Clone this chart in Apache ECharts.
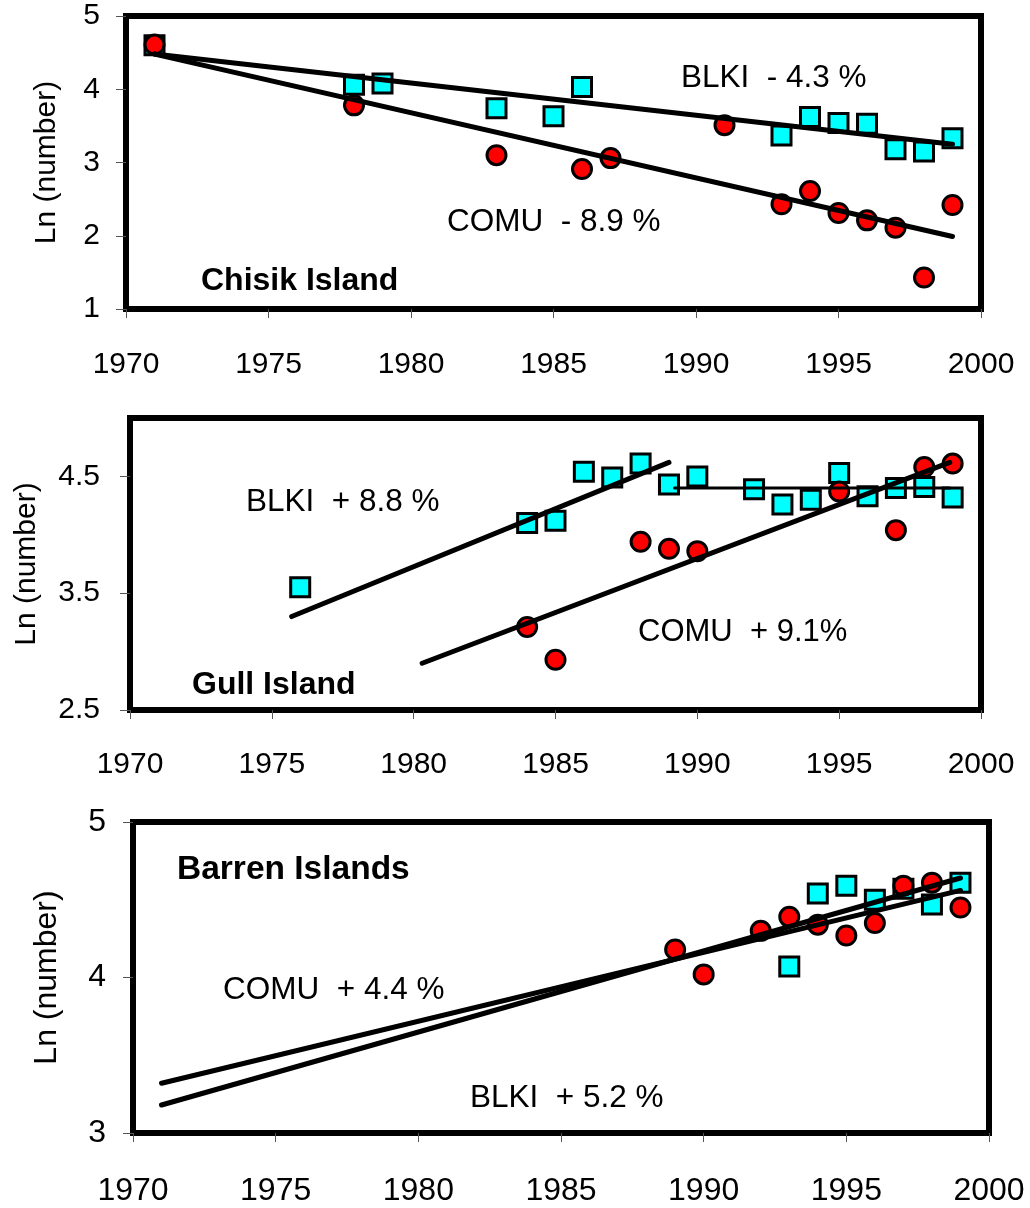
<!DOCTYPE html>
<html>
<head>
<meta charset="utf-8">
<script src="https://cdn.jsdelivr.net/npm/echarts@6/dist/echarts.min.js"></script>
<style>
  html, body { margin: 0; padding: 0; background: #fff; }
  #main { width: 1030px; height: 1208px; }
</style>
</head>
<body>
<div id="main"></div>
<script>
// x ticks shared by the three panels
var xTicks = [1970, 1975, 1980, 1985, 1990, 1995, 2000];

// Chisik Island
var chisikBlkiYears = [1971, 1978, 1979, 1983, 1985, 1986, 1993, 1994, 1995, 1996, 1997, 1998, 1999];
var chisikBlki = [4.60, 4.06, 4.08, 3.74, 3.63, 4.03, 3.37, 3.62, 3.54, 3.53, 3.18, 3.15, 3.33];
var chisikComuYears = [1971, 1978, 1983, 1986, 1987, 1991, 1993, 1994, 1995, 1996, 1997, 1998, 1999];
var chisikComu = [4.61, 3.78, 3.10, 2.91, 3.06, 3.51, 2.43, 2.61, 2.31, 2.21, 2.11, 1.43, 2.42];
var chisikBlkiTrend = [[1971, 4.48], [1999, 3.25]];
var chisikComuTrend = [[1971, 4.48], [1999, 1.99]];
var chisikYTicks = [1, 2, 3, 4, 5];

// Gull Island
var gullBlkiYears = [1976, 1984, 1985, 1986, 1987, 1988, 1989, 1990, 1992, 1993, 1994, 1995, 1996, 1997, 1998, 1999];
var gullBlki = [3.55, 4.10, 4.12, 4.54, 4.49, 4.61, 4.43, 4.50, 4.39, 4.26, 4.30, 4.53, 4.33, 4.40, 4.41, 4.32];
var gullComuYears = [1984, 1985, 1988, 1989, 1990, 1995, 1997, 1998, 1999];
var gullComu = [3.21, 2.93, 3.94, 3.88, 3.86, 4.37, 4.04, 4.58, 4.61];
var gullBlkiTrendEarly = [[1975.7, 3.30], [1989, 4.62]];
var gullBlkiTrendLate = [[1989.2, 4.40], [1998.9, 4.40]];
var gullComuTrend = [[1980.3, 2.90], [1998.9, 4.62]];
var gullYTicks = [2.5, 3.5, 4.5];

// Barren Islands
var barrenComuYears = [1989, 1990, 1992, 1993, 1994, 1995, 1996, 1997, 1998, 1999];
var barrenComu = [4.18, 4.02, 4.30, 4.39, 4.34, 4.27, 4.35, 4.59, 4.61, 4.45];
var barrenBlkiYears = [1993, 1994, 1995, 1996, 1997, 1998, 1999];
var barrenBlki = [4.07, 4.54, 4.59, 4.50, 4.57, 4.47, 4.61];
var barrenComuTrend = [[1971, 3.32], [1999, 4.56]];
var barrenBlkiTrend = [[1971, 3.18], [1999, 4.64]];
var barrenYTicks = [3, 4, 5];

function pairs(xs, ys) {
    return xs.map(function (x, i) { return [x, ys[i]]; });
}

var FONT = "'Liberation Sans', Arial, sans-serif";

function xAxisFor(idx, size, margin) {
    return {
        type: 'value', gridIndex: idx, min: 1970, max: 2000,
        axisLine: { show: false },
        splitLine: { show: false },
        axisTick: { show: true, customValues: xTicks, length: 9, lineStyle: { color: '#555', width: 1 } },
        axisLabel: {
            customValues: xTicks, fontSize: size, fontFamily: FONT, color: '#000', margin: margin,
            formatter: function (v) { return String(v); }
        }
    };
}

function yAxisFor(idx, min, max, ticks, size, margin, gap) {
    return {
        type: 'value', gridIndex: idx, min: min, max: max,
        name: 'Ln (number)', nameLocation: 'middle', nameGap: gap,
        nameTextStyle: { fontSize: size, fontFamily: FONT, color: '#000' },
        axisLine: { show: false },
        splitLine: { show: false },
        axisTick: { show: true, customValues: ticks, length: 10, lineStyle: { color: '#555', width: 1 } },
        axisLabel: { customValues: ticks, fontSize: size, fontFamily: FONT, color: '#000', margin: margin }
    };
}

function squares(idx, data) {
    return {
        type: 'scatter', xAxisIndex: idx, yAxisIndex: idx, data: data,
        symbol: 'rect', symbolSize: 19, z: 3,
        itemStyle: { color: '#00FFFF', borderColor: '#000', borderWidth: 3, opacity: 1 }
    };
}

function circles(idx, data) {
    return {
        type: 'scatter', xAxisIndex: idx, yAxisIndex: idx, data: data,
        symbol: 'circle', symbolSize: 19, z: 4,
        itemStyle: { color: '#FF0000', borderColor: '#000', borderWidth: 3, opacity: 1 }
    };
}

function trend(idx, data, width) {
    return {
        type: 'line', xAxisIndex: idx, yAxisIndex: idx, data: data,
        symbol: 'none', z: 5, silent: true,
        lineStyle: { color: '#000', width: width, cap: 'round' }
    };
}

function label(text, x, y, size, bold) {
    return {
        type: 'text', x: x, y: y, z: 10,
        style: {
            text: text, fill: '#000', textVerticalAlign: 'middle',
            font: (bold ? 'bold ' : '') + size + "px 'Liberation Sans', Arial, sans-serif"
        }
    };
}

var chartDom = document.getElementById('main');
var myChart = echarts.init(chartDom, null, { renderer: 'canvas' });

var gridBox = { show: true, borderWidth: 6, borderColor: '#000', backgroundColor: 'transparent' };

var option = {
    animation: false,
    backgroundColor: '#fff',
    grid: [
        Object.assign({ left: 126, top: 16, width: 855, height: 293 }, gridBox),
        Object.assign({ left: 130, top: 418, width: 851, height: 292 }, gridBox),
        Object.assign({ left: 133, top: 822, width: 856, height: 311 }, gridBox)
    ],
    xAxis: [
        xAxisFor(0, 30, 41),
        xAxisFor(1, 30, 40),
        xAxisFor(2, 32, 42)
    ],
    yAxis: [
        yAxisFor(0, 1, 5, chisikYTicks, 30, 26, 64),
        yAxisFor(1, 2.5, 5, gullYTicks, 30, 30, 88),
        yAxisFor(2, 3, 5, barrenYTicks, 32, 27, 70)
    ],
    series: [
        squares(0, pairs(chisikBlkiYears, chisikBlki)),
        circles(0, pairs(chisikComuYears, chisikComu)),
        trend(0, chisikBlkiTrend, 5),
        trend(0, chisikComuTrend, 5),

        squares(1, pairs(gullBlkiYears, gullBlki)),
        circles(1, pairs(gullComuYears, gullComu)),
        trend(1, gullBlkiTrendEarly, 5),
        trend(1, gullBlkiTrendLate, 3),
        trend(1, gullComuTrend, 5),

        squares(2, pairs(barrenBlkiYears, barrenBlki)),
        circles(2, pairs(barrenComuYears, barrenComu)),
        trend(2, barrenComuTrend, 5),
        trend(2, barrenBlkiTrend, 5)
    ],
    graphic: [
        label('BLKI  - 4.3 %', 681, 78, 31.5, false),
        label('COMU  - 8.9 %', 447, 222, 31.5, false),
        label('Chisik Island', 201, 281, 32, true),

        label('BLKI  + 8.8 %', 246, 502, 31.5, false),
        label('COMU  + 9.1%', 638, 632, 31, false),
        label('Gull Island', 192, 685, 32, true),

        label('Barren Islands', 177, 870, 33.5, true),
        label('COMU  + 4.4 %', 223, 990, 31.5, false),
        label('BLKI  + 5.2 %', 470, 1098, 31.5, false)
    ]
};

option && myChart.setOption(option);
</script>
</body>
</html>
